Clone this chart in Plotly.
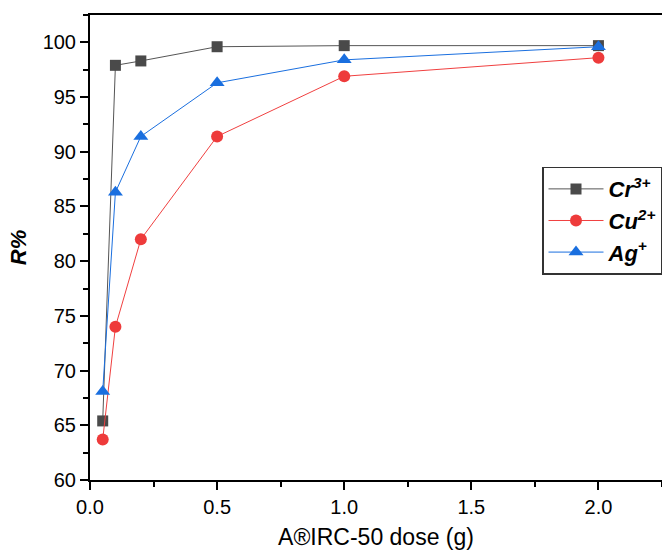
import plotly.graph_objects as go

dose = [0.05, 0.1, 0.2, 0.5, 1.0, 2.0]
cr = [65.4, 97.9, 98.3, 99.6, 99.7, 99.7]
cu = [63.7, 74.0, 82.0, 91.4, 96.9, 98.6]
ag = [68.1, 86.3, 91.4, 96.3, 98.4, 99.6]

fig = go.Figure()
fig.add_trace(go.Scatter(x=dose, y=cr, mode="lines+markers",
                         name="<b><i>Cr<sup>3+</sup></i></b>",
                         line=dict(color="#555555", width=1),
                         marker=dict(symbol="square", size=11, color="#4a4a4a")))
fig.add_trace(go.Scatter(x=dose, y=cu, mode="lines+markers",
                         name="<b><i>Cu<sup>2+</sup></i></b>",
                         line=dict(color="#f04040", width=1),
                         marker=dict(symbol="circle", size=12, color="#ee3b3b")))
fig.add_trace(go.Scatter(x=dose, y=ag, mode="lines+markers",
                         name="<b><i>Ag<sup>+</sup></i></b>",
                         line=dict(color="#1a6fdf", width=1),
                         marker=dict(symbol="triangle-up", size=13, color="#1a6fdf")))

fig.update_layout(
    width=662, height=553,
    margin=dict(l=90, r=0, t=15, b=73),
    plot_bgcolor="white", paper_bgcolor="white",
    font=dict(family="Liberation Sans, Arial, sans-serif", color="black"),
    legend=dict(x=1.0, xanchor="right", y=0.674, yanchor="top",
                bordercolor="#333333", borderwidth=1.5, bgcolor="white",
                font=dict(size=22), itemwidth=55, tracegroupgap=0),
)
fig.update_xaxes(range=[0, 2.25], tickvals=[0, 0.5, 1.0, 1.5, 2.0],
                 ticktext=["0.0", "0.5", "1.0", "1.5", "2.0"],
                 ticks="outside", ticklen=8, tickwidth=1.5, tickcolor="black",
                 minor=dict(dtick=0.25, tick0=0, ticks="outside", ticklen=5, tickwidth=1.5, tickcolor="black"),
                 showline=True, linecolor="black", linewidth=2, mirror=True,
                 showgrid=False, zeroline=False,
                 tickfont=dict(size=20),
                 title=dict(text="A®IRC-50 dose (g)", font=dict(size=23), standoff=12))
fig.update_yaxes(range=[60, 102.5], tickvals=[60, 65, 70, 75, 80, 85, 90, 95, 100],
                 ticks="outside", ticklen=8, tickwidth=1.5, tickcolor="black",
                 minor=dict(dtick=2.5, tick0=60, ticks="outside", ticklen=5, tickwidth=1.5, tickcolor="black"),
                 showline=True, linecolor="black", linewidth=2, mirror=False,
                 showgrid=False, zeroline=False,
                 tickfont=dict(size=20),
                 title=dict(text="<b><i>R%</i></b>", font=dict(size=22), standoff=10))

fig.write_html("out.html")
